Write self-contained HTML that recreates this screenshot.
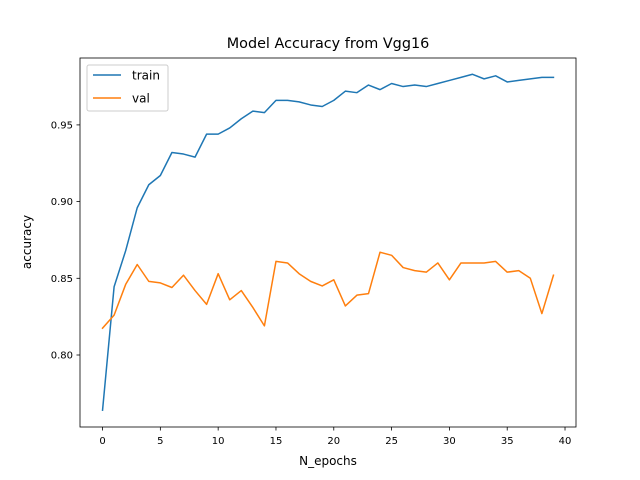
<!DOCTYPE html>
<html><head><meta charset="utf-8"><style>
body{margin:0;background:#fff;}
svg{display:block;font-family:"DejaVu Sans","Liberation Sans",sans-serif;}
</style></head><body>
<svg id="chart" width="640" height="480" viewBox="0 0 640 480" xmlns="http://www.w3.org/2000/svg">
<rect x="80" y="58" width="496" height="369" fill="#fff" stroke="#000" stroke-width="0.8"/>
<text x="328" y="48" font-size="14.4" text-anchor="middle">Model Accuracy from Vgg16</text>
<text x="328" y="465" font-size="12" text-anchor="middle">N_epochs</text>
<text x="31" y="242" font-size="12" text-anchor="middle" transform="rotate(-90 31 242)">accuracy</text>
<g id="xt"></g>
<g id="yt"></g>
<g id="lines"></g>
<g>
<rect x="87" y="65" width="81" height="46" rx="2" fill="#fff" fill-opacity="0.8" stroke="#ccc" stroke-width="1"/>
<line x1="93" y1="75" x2="121" y2="75" stroke="#1f77b4" stroke-width="1.5"/>
<text x="132" y="79.5" font-size="12">train</text>
<line x1="93" y1="98" x2="121" y2="98" stroke="#ff7f0e" stroke-width="1.5"/>
<text x="132" y="102.5" font-size="12">val</text>
</g>
</svg>
<script>
const epochs=[...Array(40).keys()];
const trainAcc=[0.764,0.8445,0.868,0.896,0.911,0.917,0.932,0.931,0.929,0.944,0.944,0.948,0.954,0.959,0.958,0.966,0.966,0.965,0.963,0.962,0.966,0.972,0.971,0.976,0.973,0.977,0.975,0.976,0.975,0.977,0.979,0.981,0.983,0.980,0.982,0.978,0.979,0.980,0.981,0.981];
const valAcc=[0.8175,0.826,0.846,0.859,0.848,0.847,0.844,0.852,0.842,0.833,0.853,0.836,0.842,0.831,0.819,0.861,0.860,0.853,0.848,0.845,0.849,0.832,0.839,0.840,0.867,0.865,0.857,0.855,0.854,0.860,0.849,0.860,0.860,0.860,0.861,0.854,0.855,0.850,0.827,0.852];
const xTicks=[0,5,10,15,20,25,30,35,40];
const yTicks=[0.80,0.85,0.90,0.95];
const yTickLabels=["0.80","0.85","0.90","0.95"];
const NS="http://www.w3.org/2000/svg";
function xs(v){return 80+(v+1.95)*(496/42.9);}
function ys(v){return 355-(v-0.80)*1534;}
function mk(t,a,p){const e=document.createElementNS(NS,t);for(const k in a)e.setAttribute(k,a[k]);p.appendChild(e);return e;}
const xt=document.getElementById('xt'),yt=document.getElementById('yt'),lines=document.getElementById('lines');
xTicks.forEach(v=>{
 const l=mk('line',{x1:xs(v),x2:xs(v),y1:427,y2:430.5,stroke:'#000','stroke-width':0.8},xt);
 
 
 const t=mk('text',{x:xs(v),y:444,'font-size':10,'text-anchor':'middle'},xt);t.textContent=v;
 
 
});
yTicks.forEach((v,i)=>{
 const l=mk('line',{x1:76.5,x2:80,y1:ys(v),y2:ys(v),stroke:'#000','stroke-width':0.8},yt);
 
 
 const t=mk('text',{x:73,y:ys(v)+3.5,'font-size':10,'text-anchor':'end'},yt);t.textContent=yTickLabels[i];
 
 
});
function line(d,c,n){
 const p=mk('polyline',{points:d.map((v,i)=>xs(epochs[i])+','+ys(v)).join(' '),fill:'none',stroke:c,'stroke-width':1.5,'stroke-linejoin':'round','stroke-linecap':'square'},lines);
 
 
}
line(trainAcc,'#1f77b4','train-line');
line(valAcc,'#ff7f0e','val-line');
</script>
</body></html>
